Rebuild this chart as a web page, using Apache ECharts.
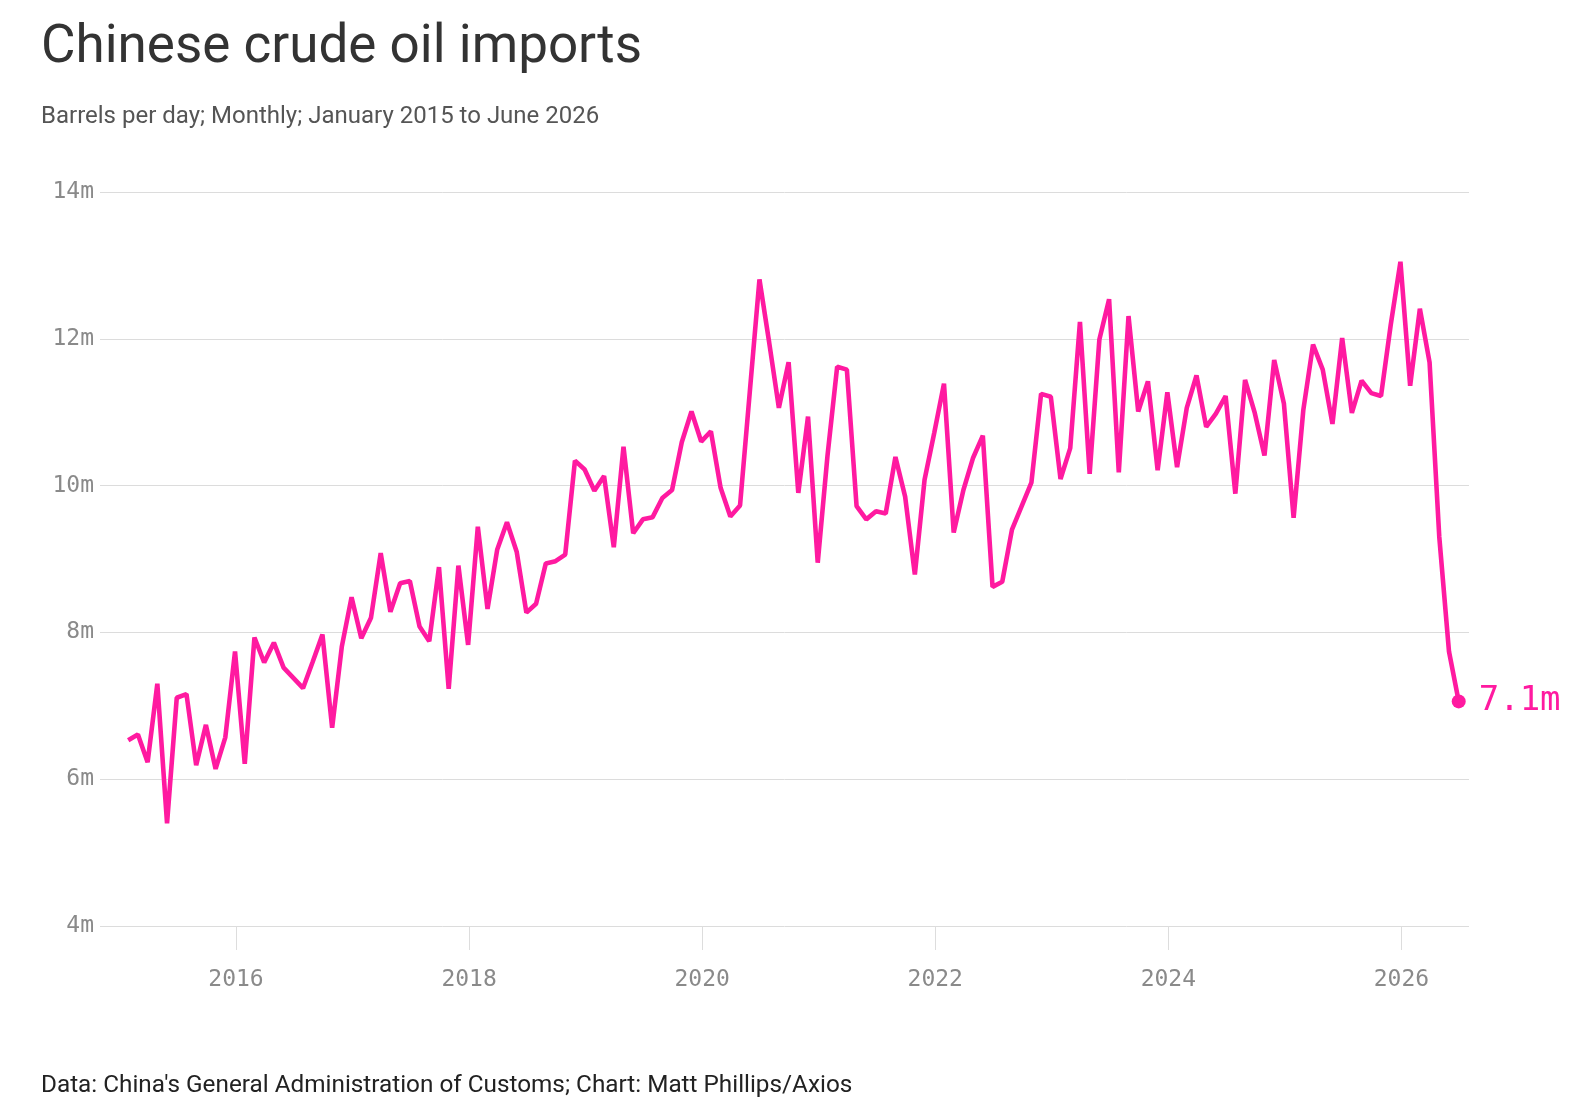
<!DOCTYPE html>
<html>
<head>
<meta charset="utf-8">
<title>Chinese crude oil imports</title>
<script src="https://cdn.jsdelivr.net/npm/echarts@6/dist/echarts.min.js"></script>
<style>
  html, body { margin: 0; padding: 0; background: #fff; }
  #chart { width: 1596px; height: 1114px; }
</style>
</head>
<body>
<div id="chart"></div>
<script>
// million barrels per day, one array per year (Jan..Dec)
const imports2015 = [6.53, 6.61, 6.23, 7.30, 5.40, 7.11, 7.16, 6.19, 6.74, 6.14, 6.57, 7.74]
const imports2016 = [6.21, 7.93, 7.59, 7.86, 7.52, 7.38, 7.24, 7.60, 7.97, 6.70, 7.81, 8.48]
const imports2017 = [7.92, 8.20, 9.08, 8.28, 8.67, 8.70, 8.08, 7.88, 8.89, 7.23, 8.91, 7.83]
const imports2018 = [9.44, 8.32, 9.13, 9.50, 9.10, 8.27, 8.39, 8.94, 8.97, 9.06, 10.34, 10.22]
const imports2019 = [9.93, 10.13, 9.16, 10.53, 9.35, 9.54, 9.57, 9.83, 9.94, 10.59, 11.01, 10.60]
const imports2020 = [10.74, 9.97, 9.58, 9.73, 11.27, 12.81, 11.95, 11.06, 11.68, 9.90, 10.94, 8.95]
const imports2021 = [10.40, 11.62, 11.58, 9.72, 9.54, 9.65, 9.62, 10.39, 9.85, 8.79, 10.08, 10.72]
const imports2022 = [11.39, 9.36, 9.94, 10.38, 10.68, 8.62, 8.69, 9.40, 9.72, 10.04, 11.25, 11.21]
const imports2023 = [10.09, 10.51, 12.23, 10.16, 11.99, 12.54, 10.18, 12.31, 11.01, 11.42, 10.21, 11.27]
const imports2024 = [10.25, 11.06, 11.50, 10.80, 10.98, 11.22, 9.89, 11.44, 10.99, 10.41, 11.71, 11.12]
const imports2025 = [9.56, 11.03, 11.92, 11.58, 10.84, 12.01, 10.99, 11.43, 11.26, 11.22, 12.19, 13.05]
const imports2026 = [11.36, 12.41, 11.68, 9.30, 7.74, 7.06]

const years = [2015, 2016, 2017, 2018, 2019, 2020, 2021, 2022, 2023, 2024, 2025, 2026]
const yearTicks = [2016, 2018, 2020, 2022, 2024, 2026]
const byYear = [imports2015, imports2016, imports2017, imports2018, imports2019, imports2020,
  imports2021, imports2022, imports2023, imports2024, imports2025, imports2026]

// each month is plotted near its end, as in the original
const seriesData = []
byYear.forEach((vals, k) => {
  vals.forEach((v, m) => {
    seriesData.push([years[k] + (m + 0.9) / 12, v])
  })
})
const last = seriesData[seriesData.length - 1]

const pink = '#ff1aa0'
const mono = '"DejaVu Sans Mono", "Liberation Mono", monospace'

const chart = echarts.init(document.getElementById('chart'))
chart.setOption({
  animation: false,
  title: [{
    text: 'Chinese crude oil imports',
    left: 36,
    top: 17,
    textStyle: { fontFamily: 'Roboto', fontSize: 53, fontWeight: 'normal', color: '#333' }
  }, {
    text: 'Barrels per day; Monthly; January 2015 to June 2026',
    left: 36,
    top: 100,
    textStyle: { fontFamily: 'Roboto', fontSize: 24, fontWeight: 'normal', color: '#555' }
  }, {
    text: "Data: China's General Administration of Customs; Chart: Matt Phillips/Axios",
    left: 36,
    top: 1069,
    textStyle: { fontFamily: 'Roboto', fontSize: 24.3, fontWeight: 'normal', color: '#222' }
  }],
  grid: {
    left: 100,
    right: 127,
    top: 192,
    bottom: 188
  },
  xAxis: {
    type: 'value',
    min: 2014.833,
    max: 2026.58,
    axisLine: { show: false },
    splitLine: { show: false },
    axisTick: {
      show: true,
      customValues: yearTicks,
      length: 24,
      lineStyle: { color: '#ddd', width: 1 }
    },
    axisLabel: {
      customValues: yearTicks,
      margin: 43,
      formatter: v => String(Math.round(v)),
      fontFamily: mono,
      fontSize: 23,
      color: '#8a8a8a'
    }
  },
  yAxis: {
    type: 'value',
    min: 4,
    max: 14,
    interval: 2,
    axisLine: { show: false },
    axisTick: { show: false },
    axisLabel: {
      margin: 6,
      formatter: v => v + 'm',
      fontFamily: mono,
      fontSize: 23,
      color: '#8a8a8a'
    },
    splitLine: {
      lineStyle: { color: '#dcdcdc', width: 1 }
    }
  },
  series: [{
    name: 'Imports',
    type: 'line',
    data: seriesData,
    symbol: 'none',
    lineStyle: { color: pink, width: 4.6 },
    z: 3
  }, {
    // end point with its value
    type: 'scatter',
    data: [last],
    symbol: 'circle',
    symbolSize: 14,
    itemStyle: { color: pink, opacity: 1 },
    label: {
      show: true,
      position: 'right',
      distance: 13,
      formatter: p => p.value[1].toFixed(1) + 'm',
      fontFamily: mono,
      fontSize: 34,
      color: pink
    },
    z: 4
  }]
})
</script>
</body>
</html>
